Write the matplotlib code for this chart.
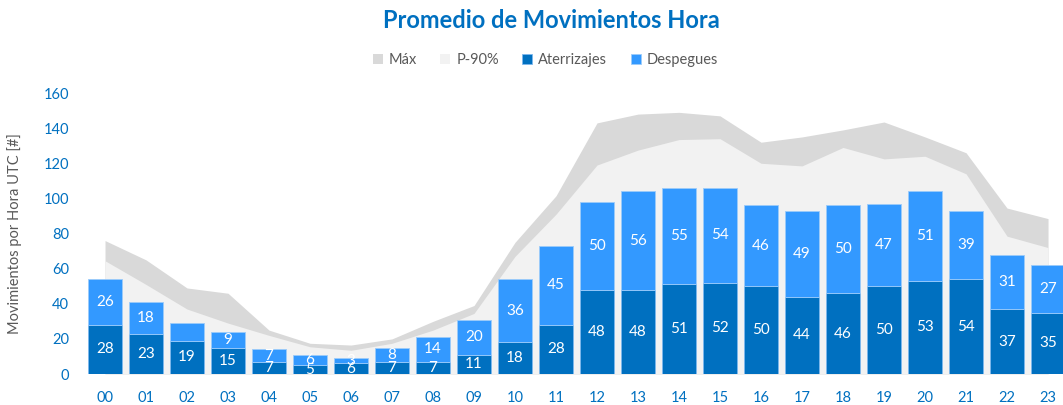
import matplotlib.pyplot as plt
import numpy as np

plt.rcParams['font.family'] = ['Lato', 'DejaVu Sans']

horas = ['00', '01', '02', '03', '04', '05', '06', '07', '08', '09', '10', '11',
         '12', '13', '14', '15', '16', '17', '18', '19', '20', '21', '22', '23']
aterrizajes = [28, 23, 19, 15, 7, 5, 6, 7, 7, 11, 18, 28,
               48, 48, 51, 52, 50, 44, 46, 50, 53, 54, 37, 35]
despegues = [26, 18, 10, 9, 7, 6, 3, 8, 14, 20, 36, 45,
             50, 56, 55, 54, 46, 49, 50, 47, 51, 39, 31, 27]
desp_labels = ['26', '18', '', '9', '7', '6', '3', '8', '14', '20', '36', '45',
               '50', '56', '55', '54', '46', '49', '50', '47', '51', '39', '31', '27']
maximo = [76, 65, 49, 46, 25, 17.5, 16.5, 20, 30, 39, 75, 101.5,
          143, 148, 149, 147, 132, 135, 139, 143.5, 135, 126, 94.5, 88.5]
p90 = [64.5, 51, 37, 29, 22, 15.5, 13.5, 17.5, 25, 34.5, 67, 91,
       119, 127.5, 133.5, 134, 120, 118.5, 129, 122.5, 124, 114, 78.5, 72]

c_max = '#D9D9D9'
c_p90 = '#F2F2F2'
c_ate = '#0070C0'
c_des = '#3399FF'
blue_txt = '#0070C0'
gray_txt = '#595959'

fig = plt.figure(figsize=(10.63, 4.05), dpi=100)
ax = fig.add_axes([0.0795, 0.0765, 0.9257, 0.6938])

x = np.arange(len(horas))
ax.fill_between(x, 0, maximo, color=c_max, lw=0, label='Máx')
ax.fill_between(x, 0, p90, color=c_p90, lw=0, label='P-90%')

b1 = ax.bar(x, aterrizajes, width=0.84, color=c_ate, edgecolor='#7DB8EE',
            linewidth=0.6, label='Aterrizajes')
b2 = ax.bar(x, despegues, width=0.84, bottom=aterrizajes, color=c_des,
            edgecolor='#9CCBFA', linewidth=0.6, label='Despegues')

for i in range(len(horas)):
    ax.text(x[i], aterrizajes[i] / 2, str(aterrizajes[i]), ha='center', va='center',
            color='white', fontsize=11, clip_on=True)
    ax.text(x[i], aterrizajes[i] + despegues[i] / 2, desp_labels[i], ha='center',
            va='center', color='white', fontsize=11, clip_on=True)

ax.set_xlim(-0.5, 23.5)
ax.set_ylim(0, 160)
ax.set_yticks(range(0, 161, 20))
ax.set_xticks(x)
ax.set_xticklabels(horas)
ax.tick_params(axis='both', length=0, labelsize=10.5, labelcolor=blue_txt)
ax.tick_params(axis='y', pad=11)
ax.tick_params(axis='x', pad=12)
for s in ax.spines.values():
    s.set_visible(False)

ax.set_ylabel('Movimientos por Hora UTC [#]', fontsize=10.5, color=gray_txt, labelpad=16)

fig.text(0.519, 0.95, 'Promedio de Movimientos Hora', ha='center', va='center',
         fontsize=17, fontweight='bold', color=blue_txt)

leg = fig.legend(loc='center', bbox_to_anchor=(0.513, 0.852), ncol=4, frameon=False,
                 fontsize=10.5, handlelength=0.7, handleheight=0.7, handletextpad=0.4,
                 columnspacing=1.6)
for t in leg.get_texts():
    t.set_color(gray_txt)

fig.savefig('out.png', dpi=100)
